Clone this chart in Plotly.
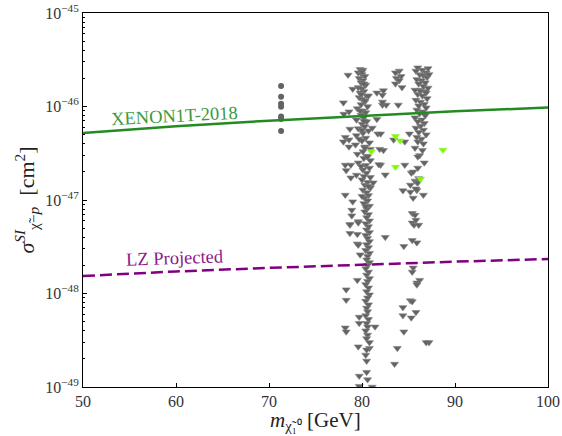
import plotly.graph_objects as go

# ---------------- data ----------------
# XENON1T-2018 limit and LZ projected sensitivity
limit_mass = [50, 60, 70, 80, 90, 100]
xenon_sigma = [5.21e-47, 6.15e-47, 7.06e-47, 7.96e-47, 8.87e-47, 9.75e-47]
lz_sigma = [1.54e-48, 1.72e-48, 1.88e-48, 2.04e-48, 2.19e-48, 2.34e-48]

# grey circles (column at ~71.3 GeV)
circle_mass = [71.3, 71.3, 71.3, 71.3, 71.3, 71.3, 71.3]
circle_sigma = [1.66e-46, 1.27e-46, 1.07e-46, 9.96e-47, 7.8e-47, 7.35e-47, 5.47e-47]

# grey triangles: main column near 80 GeV
colA_mass = [79.8, 80.1, 79.6, 80.0, 80.3, 79.7, 80.1, 79.9, 80.4, 79.6, 80.0, 80.2, 79.8, 80.5,
             79.7, 80.0, 80.3, 79.9, 80.6, 79.5, 80.1, 80.4, 79.9, 80.2, 79.4, 80.5, 80.0, 80.3,
             79.6, 80.7, 80.1, 79.4, 80.4, 80.0, 80.8, 79.3, 80.3, 80.9, 80.1, 79.5, 80.5, 80.2,
             80.9, 79.6, 80.4, 80.8, 80.1, 80.5, 79.4, 80.9, 80.0, 80.6, 80.3, 80.9, 80.1, 80.5,
             80.7, 80.3, 80.6, 80.2, 80.8, 80.5, 80.3, 80.7, 80.5, 80.8, 80.4, 80.7, 80.5, 80.8,
             80.4, 80.6, 80.8, 80.5, 80.7, 80.4, 80.8, 80.6, 80.5, 80.8, 80.6, 80.4, 80.7, 80.5,
             80.8, 80.6, 80.4, 80.7, 80.5, 80.8, 80.6, 80.4, 80.7, 80.5, 80.6, 80.4, 80.7, 80.5,
             80.6, 80.4, 80.6, 80.5, 80.8, 80.4, 80.5, 80.5, 80.6, 79.7, 79.7, 80.0, 80.2, 79.9,
             80.3, 79.8, 80.2, 80.0, 79.7, 80.3, 80.6, 79.9, 80.2, 80.7, 80.0, 80.4]
colA_sigma = [2.5e-46, 2.45e-46, 2.3e-46, 2.2e-46, 2.1e-46, 2.0e-46, 1.9e-46, 1.8e-46, 1.7e-46,
              1.6e-46, 1.55e-46, 1.45e-46, 1.4e-46, 1.3e-46, 1.25e-46, 1.2e-46, 1.12e-46,
              1.05e-46, 1.0e-46, 9.5e-47, 9.0e-47, 8.6e-47, 8.1e-47, 7.6e-47, 7.2e-47, 6.9e-47,
              6.5e-47, 6.1e-47, 5.8e-47, 5.5e-47, 5.2e-47, 4.9e-47, 4.6e-47, 4.3e-47, 4.1e-47,
              3.9e-47, 3.7e-47, 3.5e-47, 3.3e-47, 3.1e-47, 2.95e-47, 2.8e-47, 2.65e-47, 2.5e-47,
              2.35e-47, 2.2e-47, 2.1e-47, 1.95e-47, 1.85e-47, 1.75e-47, 1.65e-47, 1.55e-47,
              1.45e-47, 1.35e-47, 1.28e-47, 1.2e-47, 1.12e-47, 1.05e-47, 9.8e-48, 9.2e-48,
              8.6e-48, 8.0e-48, 7.5e-48, 7.0e-48, 6.5e-48, 6.0e-48, 5.6e-48, 5.2e-48, 4.8e-48,
              4.5e-48, 4.2e-48, 3.9e-48, 3.6e-48, 3.35e-48, 3.1e-48, 2.9e-48, 2.7e-48, 2.5e-48,
              2.3e-48, 2.15e-48, 2.0e-48, 1.85e-48, 1.7e-48, 1.58e-48, 1.45e-48, 1.35e-48,
              1.25e-48, 1.15e-48, 1.05e-48, 9.7e-49, 9.0e-49, 8.3e-49, 7.6e-49, 7.0e-49, 6.4e-49,
              5.8e-49, 5.3e-49, 4.8e-49, 4.4e-49, 4.0e-49, 3.6e-49, 3.3e-49, 2.6e-49, 2.2e-49,
              1.9e-49, 1.44e-49, 1.2e-49, 1.31e-49, 1.02e-49, 2.35e-46, 1.75e-46, 1.35e-46,
              1.15e-46, 9.0e-47, 7.0e-47, 5.6e-47, 4.5e-47, 3.6e-47, 2.9e-47, 2.3e-47, 1.8e-47,
              1.4e-47, 1.1e-47, 8.5e-48, 6.8e-48, 5.4e-48]

# grey triangles: scattered points left of the main column
left_mass = [78.9, 78.7, 78.5, 79.0, 78.0, 78.6, 78.05, 78.7, 78.2, 78.6, 78.0, 78.6, 78.8, 78.2,
             78.3, 78.8, 78.2, 79.0, 78.9, 79.6, 78.7, 79.6, 78.7, 79.5, 79.5, 79.6, 79.8, 79.5,
             78.3, 78.3, 79.7, 79.7, 78.2, 78.3, 79.6]
left_sigma = [2.17e-46, 1.54e-46, 1.10e-46, 8.8e-47, 8.3e-47, 5.75e-47, 4.7e-47, 4.4e-47,
              4.2e-47, 3.7e-47, 2.37e-47, 2.37e-47, 2.07e-47, 1.73e-47, 1.13e-47, 9.6e-48,
              7.8e-48, 5.9e-48, 5.5e-48, 5.7e-48, 4.4e-48, 4.3e-48, 3.4e-48, 3.3e-48, 2.6e-48,
              1.39e-48, 1.1e-48, 8.5e-49, 5.6e-49, 4.8e-49, 4.3e-49, 3.9e-49, 2.7e-49, 2.5e-49,
              1.0e-49]

# grey triangles: scattered points between the columns
mid_mass = [80.5, 81.1, 82.2, 80.7, 81.6, 82.6, 83.9, 82.2, 82.2, 81.6, 81.1, 81.7, 83.4, 84.6,
            85.1, 82.0, 82.3, 82.3, 82.0, 82.5, 81.2, 84.4, 85.2, 84.6, 81.8, 81.9, 82.5, 84.5,
            84.4, 84.4, 81.4, 84.5, 80.8]
mid_sigma = [1.33e-46, 1.30e-46, 1.40e-46, 1.04e-46, 1.04e-46, 1.04e-46, 1.12e-46, 7.3e-47,
             5.9e-47, 5.1e-47, 4.4e-47, 4.2e-47, 5.1e-47, 5.1e-47, 1.48e-46, 3.4e-47, 2.37e-47,
             1.86e-47, 1.53e-47, 1.26e-47, 1.22e-47, 2.37e-47, 2.4e-47, 3.5e-47, 4.0e-48,
             3.2e-48, 5.8e-49, 7.1e-49, 4.4e-49, 3.9e-49, 3.0e-49, 1.76e-49, 2.6e-49]

# grey triangles: small cluster near 84 GeV
colB_mass = [83.5, 83.8, 84.0, 83.6, 84.2, 83.7, 84.0, 83.6, 84.3]
colB_sigma = [2.4e-46, 2.3e-46, 2.1e-46, 2.0e-46, 1.9e-46, 1.75e-46, 1.6e-46, 1.5e-46, 1.45e-46]

# grey triangles: column near 86 GeV
colC_mass = [86.3, 86.8, 86.0, 87.1, 86.5, 85.8, 86.9, 86.2, 86.6, 87.0, 85.9, 86.4, 86.8, 86.1,
             86.6, 87.1, 85.7, 86.3, 86.9, 86.0, 86.5, 87.0, 85.8, 86.3, 86.7, 86.1, 86.9, 85.9,
             86.5, 86.2, 86.8, 85.7, 86.4, 86.0, 86.7, 86.3, 85.8, 86.6, 86.1, 86.9, 85.9, 86.4,
             86.0, 86.6, 85.7, 86.2, 86.5, 86.0, 86.7, 85.3, 86.0, 85.5, 85.7, 86.1, 85.2, 85.9,
             86.0, 86.6, 85.9, 85.8, 85.5, 85.4, 85.7, 85.4, 85.8, 85.6, 86.1, 85.9, 85.4, 85.5,
             85.4, 86.2, 85.9, 85.9, 85.2, 85.4, 85.8, 85.3, 87.2, 86.9, 87.2]
colC_sigma = [2.6e-46, 2.55e-46, 2.45e-46, 2.4e-46, 2.3e-46, 2.2e-46, 2.15e-46, 2.05e-46,
              1.95e-46, 1.9e-46, 1.8e-46, 1.75e-46, 1.65e-46, 1.58e-46, 1.5e-46, 1.45e-46,
              1.4e-46, 1.35e-46, 1.3e-46, 1.22e-46, 1.17e-46, 1.12e-46, 1.06e-46, 1.02e-46,
              9.7e-47, 9.2e-47, 8.8e-47, 8.4e-47, 8.0e-47, 7.6e-47, 7.2e-47, 6.9e-47, 6.6e-47,
              6.2e-47, 5.9e-47, 5.6e-47, 5.3e-47, 5.0e-47, 4.7e-47, 4.5e-47, 4.2e-47, 4.0e-47,
              3.6e-47, 3.0e-47, 3.4e-47, 2.9e-47, 2.5e-47, 1.95e-47, 2.2e-47, 2.0e-47, 1.6e-47,
              1.7e-47, 1.45e-47, 1.55e-47, 1.53e-47, 1.13e-47, 1.27e-47, 1.32e-47, 1.05e-47,
              7.2e-48, 6.9e-48, 5.7e-48, 6.1e-48, 5.4e-48, 5.4e-48, 3.5e-48, 3.7e-48, 1.88e-48,
              1.7e-48, 1.39e-48, 1.3e-48, 1.24e-48, 8.4e-49, 8.2e-49, 6.3e-49, 5.5e-49, 3.0e-49,
              3.0e-49, 2.2e-46, 1.2e-46, 1.6e-46]

# bright green triangles
green_mass = [81.0, 83.6, 84.1, 83.6, 86.3, 88.7]
green_sigma = [3.3e-47, 4.8e-47, 4.3e-47, 2.25e-47, 1.68e-47, 3.43e-47]

x_ticks = [50, 60, 70, 80, 90, 100]
y_decades = [-49, -48, -47, -46, -45]

# ---------------- figure ----------------
FONT = "Liberation Serif"
GREY = "#636363"

grey_mass = colA_mass + left_mass + mid_mass + colB_mass + colC_mass
grey_sigma = colA_sigma + left_sigma + mid_sigma + colB_sigma + colC_sigma

major_vals = [10.0 ** d for d in y_decades]
major_text = ["10<sup>−%d</sup>" % (-d) for d in y_decades]
minor_vals = [m * 10.0 ** d for d in y_decades[:-1] for m in range(2, 10)]

fig = go.Figure()
fig.add_trace(go.Scatter(x=grey_mass, y=grey_sigma, mode="markers",
                         marker=dict(symbol="triangle-down", size=7, color=GREY,
                                     line=dict(width=0.6, color="#858585")),
                         showlegend=False))
fig.add_trace(go.Scatter(x=circle_mass, y=circle_sigma, mode="markers",
                         marker=dict(symbol="circle", size=6, color=GREY),
                         showlegend=False))
fig.add_trace(go.Scatter(x=limit_mass, y=xenon_sigma, mode="lines",
                         line=dict(color="#228b22", width=2.5), showlegend=False))
fig.add_trace(go.Scatter(x=limit_mass, y=lz_sigma, mode="lines",
                         line=dict(color="#800080", width=2.5, dash="12px,5px"),
                         showlegend=False))
fig.add_trace(go.Scatter(x=green_mass, y=green_sigma, mode="markers",
                         marker=dict(symbol="triangle-down", size=7, color="#7cfc00",
                                     line=dict(width=0.6, color="#9cf040")),
                         showlegend=False))

fig.add_annotation(x=59.8, y=-46.10, xref="x", yref="y", text="XENON1T-2018",
                   showarrow=False, textangle=-3,
                   font=dict(family=FONT, size=18.5, color="#3c9a3c"))
fig.add_annotation(x=59.9, y=-47.62, xref="x", yref="y", text="LZ Projected",
                   showarrow=False, textangle=-2,
                   font=dict(family=FONT, size=18.5, color="#8b1a8b"))
# x-axis title, placed below the tick labels
fig.add_annotation(x=0.5, y=-0.052, xref="paper", yref="paper", xanchor="center", yanchor="top",
                   text="<i>m</i><sub>χ̃₁⁰</sub> [GeV]", showarrow=False,
                   font=dict(family=FONT, size=21, color="#222222"))

fig.update_layout(
    width=562, height=436,
    margin=dict(l=83, r=14, t=13, b=49),
    plot_bgcolor="white", paper_bgcolor="white",
    font=dict(family=FONT, color="#333333"),
)
fig.update_xaxes(range=[50, 100], tickvals=x_ticks, ticktext=[str(v) for v in x_ticks],
                 automargin=False,
                 ticks="inside", ticklen=4, tickcolor="black", showgrid=False, zeroline=False,
                 showline=True, linecolor="black", linewidth=1, mirror=True,
                 tickfont=dict(family=FONT, size=16, color="#333333"))
fig.update_yaxes(type="log", range=[-49, -45], tickvals=major_vals, ticktext=major_text,
                 automargin=False,
                 ticks="inside", ticklen=4, tickcolor="black", showgrid=False, zeroline=False,
                 showline=True, linecolor="black", linewidth=1, mirror=True,
                 minor=dict(ticks="inside", ticklen=2, tickcolor="black",
                            tickvals=minor_vals, showgrid=False),
                 tickfont=dict(family=FONT, size=16, color="#333333"),
                 title=dict(text="<i>σ</i><sup><i>SI</i></sup><sub>χ̃−<i>p</i></sub>  [cm<sup>2</sup>]",
                            font=dict(family=FONT, size=22, color="#222222"), standoff=4))

fig.write_html("out.html")
